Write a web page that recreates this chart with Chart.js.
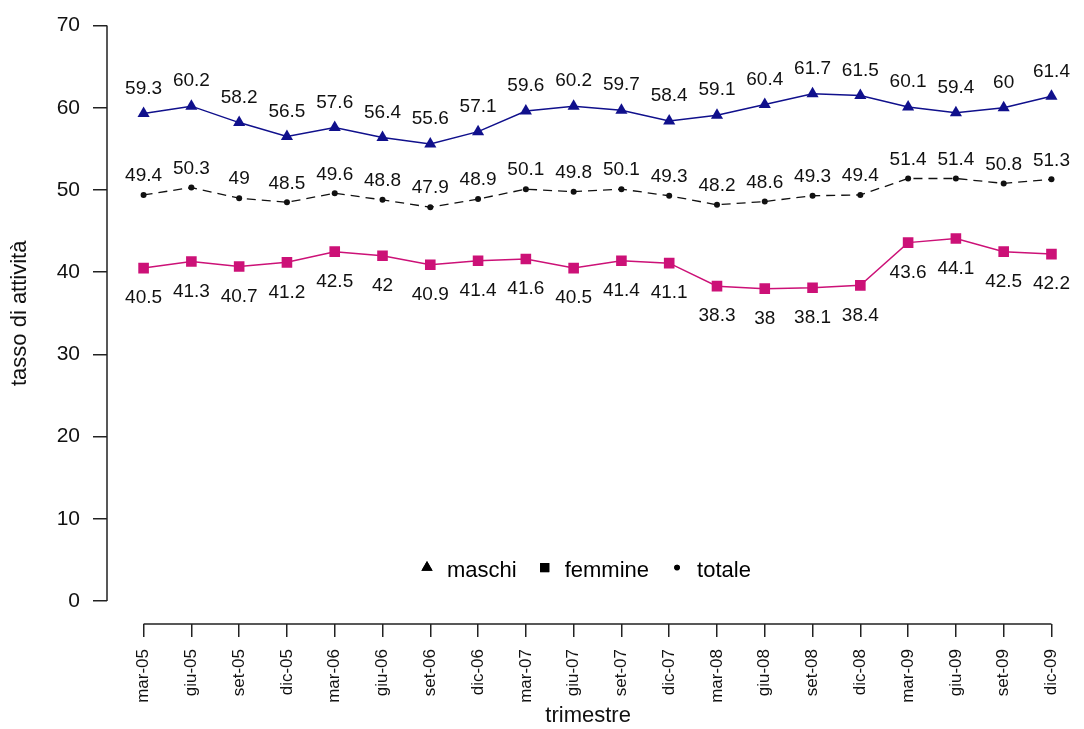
<!DOCTYPE html>
<html>
<head>
<meta charset="utf-8">
<script src="https://cdn.jsdelivr.net/npm/chart.js@4.4.1/dist/chart.umd.min.js"></script>
<style>
  html, body { margin: 0; padding: 0; background: #fff; }
  canvas { display: block; }
</style>
</head>
<body>
<canvas id="grafico" width="1084" height="729"></canvas>
<script>
// trimestri
const trimestri = ['mar-05', 'giu-05', 'set-05', 'dic-05', 'mar-06', 'giu-06', 'set-06', 'dic-06',
  'mar-07', 'giu-07', 'set-07', 'dic-07', 'mar-08', 'giu-08', 'set-08', 'dic-08',
  'mar-09', 'giu-09', 'set-09', 'dic-09'];

// tassi di attività
const maschi = [59.3, 60.2, 58.2, 56.5, 57.6, 56.4, 55.6, 57.1, 59.6, 60.2, 59.7, 58.4, 59.1, 60.4, 61.7, 61.5, 60.1, 59.4, 60, 61.4];
const femmine = [40.5, 41.3, 40.7, 41.2, 42.5, 42, 40.9, 41.4, 41.6, 40.5, 41.4, 41.1, 38.3, 38, 38.1, 38.4, 43.6, 44.1, 42.5, 42.2];
const totale = [49.4, 50.3, 49, 48.5, 49.6, 48.8, 47.9, 48.9, 50.1, 49.8, 50.1, 49.3, 48.2, 48.6, 49.3, 49.4, 51.4, 51.4, 50.8, 51.3];

// tick asse y
const tickY = [0, 10, 20, 30, 40, 50, 60, 70];

const FONT = 'Liberation Sans, Arial, sans-serif';
const punti = (arr) => arr.map((v, i) => ({ x: i, y: v }));

// etichette dei valori sopra/sotto i punti
const etichette = {
  id: 'etichette',
  afterDatasetsDraw(chart) {
    const ctx = chart.ctx;
    ctx.save();
    ctx.font = '19px ' + FONT;
    ctx.fillStyle = '#111';
    ctx.textAlign = 'center';
    ctx.textBaseline = 'middle';
    chart.data.datasets.forEach((ds, i) => {
      const meta = chart.getDatasetMeta(i);
      meta.data.forEach((p, j) => {
        ctx.fillText(String(ds.data[j].y), p.x, p.y + ds.offsetEtichetta);
      });
    });
    ctx.restore();
  }
};

// assi staccati, titolo y e legenda interna
const assi = {
  id: 'assi',
  afterDraw(chart) {
    const ctx = chart.ctx;
    const x = chart.scales.x, y = chart.scales.y;
    const area = chart.chartArea;
    ctx.save();
    ctx.strokeStyle = '#222';
    ctx.lineWidth = 1.5;
    ctx.beginPath();
    ctx.moveTo(area.left, y.getPixelForValue(tickY[0]));
    ctx.lineTo(area.left, y.getPixelForValue(tickY[tickY.length - 1]));
    ctx.moveTo(x.getPixelForValue(0), area.bottom);
    ctx.lineTo(x.getPixelForValue(trimestri.length - 1), area.bottom);
    ctx.stroke();

    // titolo asse y
    const cy = (y.getPixelForValue(tickY[0]) + y.getPixelForValue(tickY[tickY.length - 1])) / 2;
    ctx.translate(20, cy);
    ctx.rotate(-Math.PI / 2);
    ctx.font = '22px ' + FONT;
    ctx.fillStyle = '#111';
    ctx.textAlign = 'center';
    ctx.textBaseline = 'middle';
    ctx.fillText('tasso di attività', 0, 0);
    ctx.setTransform(1, 0, 0, 1, 0, 0);

    // legenda
    const ly = y.getPixelForValue(3.7);
    let lx = 427;
    ctx.font = '22px ' + FONT;
    ctx.textAlign = 'left';
    ctx.fillStyle = '#000';
    const voci = [['maschi', 'triangle', 6.5], ['femmine', 'rect', 6.5], ['totale', 'circle', 2.8]];
    voci.forEach(([testo, stile, r]) => {
      Chart.helpers.drawPoint(ctx, { pointStyle: stile, radius: r, borderWidth: 0 }, lx, ly - 3);
      ctx.fillStyle = '#000';
      ctx.fill();
      ctx.fillText(testo, lx + 20, ly);
      lx += 20 + ctx.measureText(testo).width + 28;
    });
    ctx.restore();
  }
};

new Chart(document.getElementById('grafico'), {
  type: 'line',
  data: {
    datasets: [
      {
        label: 'maschi',
        data: punti(maschi),
        borderColor: '#10108c',
        backgroundColor: '#10108c',
        borderWidth: 1.5,
        pointStyle: 'triangle',
        pointRadius: 7,
        pointBorderWidth: 0,
        tension: 0,
        offsetEtichetta: -25,
      },
      {
        label: 'femmine',
        data: punti(femmine),
        borderColor: '#cc1177',
        backgroundColor: '#cc1177',
        borderWidth: 1.5,
        pointStyle: 'rect',
        pointRadius: 7.5,
        pointBorderWidth: 0,
        tension: 0,
        offsetEtichetta: 30,
      },
      {
        label: 'totale',
        data: punti(totale),
        borderColor: '#111',
        backgroundColor: '#111',
        borderWidth: 1.3,
        borderDash: [9, 6],
        pointStyle: 'circle',
        pointRadius: 3,
        pointBorderWidth: 0,
        tension: 0,
        offsetEtichetta: -19,
      },
    ],
  },
  options: {
    responsive: false,
    animation: false,
    layout: { padding: { left: 0, top: 20, right: 4, bottom: 0 } },
    plugins: {
      legend: { display: false },
      tooltip: { enabled: false },
    },
    scales: {
      x: {
        type: 'linear',
        min: -0.7658,
        max: 19.372,
        afterBuildTicks: (s) => { s.ticks = trimestri.map((t, i) => ({ value: i })); },
        afterFit: (s) => { s.height = 105; },
        grid: { drawOnChartArea: false, drawTicks: true, tickLength: 13, color: '#222', lineWidth: 1.5 },
        border: { display: false },
        ticks: {
          autoSkip: false,
          minRotation: 90,
          maxRotation: 90,
          padding: 12,
          color: '#111',
          font: { family: FONT, size: 17 },
          callback: (v) => trimestri[v] ?? '',
        },
        title: {
          display: true,
          text: 'trimestre',
          color: '#111',
          font: { family: FONT, size: 22 },
          padding: { top: 0, bottom: 0 },
        },
      },
      y: {
        min: -2.8,
        max: 70,
        afterBuildTicks: (s) => { s.ticks = tickY.map(v => ({ value: v })); },
        afterFit: (s) => { s.width = 107; },
        grid: { drawOnChartArea: false, drawTicks: true, tickLength: 14, color: '#222', lineWidth: 1.5 },
        border: { display: false },
        ticks: {
          padding: 13,
          color: '#111',
          font: { family: FONT, size: 21 },
        },
      },
    },
  },
  plugins: [etichette, assi],
});
</script>
</body>
</html>
